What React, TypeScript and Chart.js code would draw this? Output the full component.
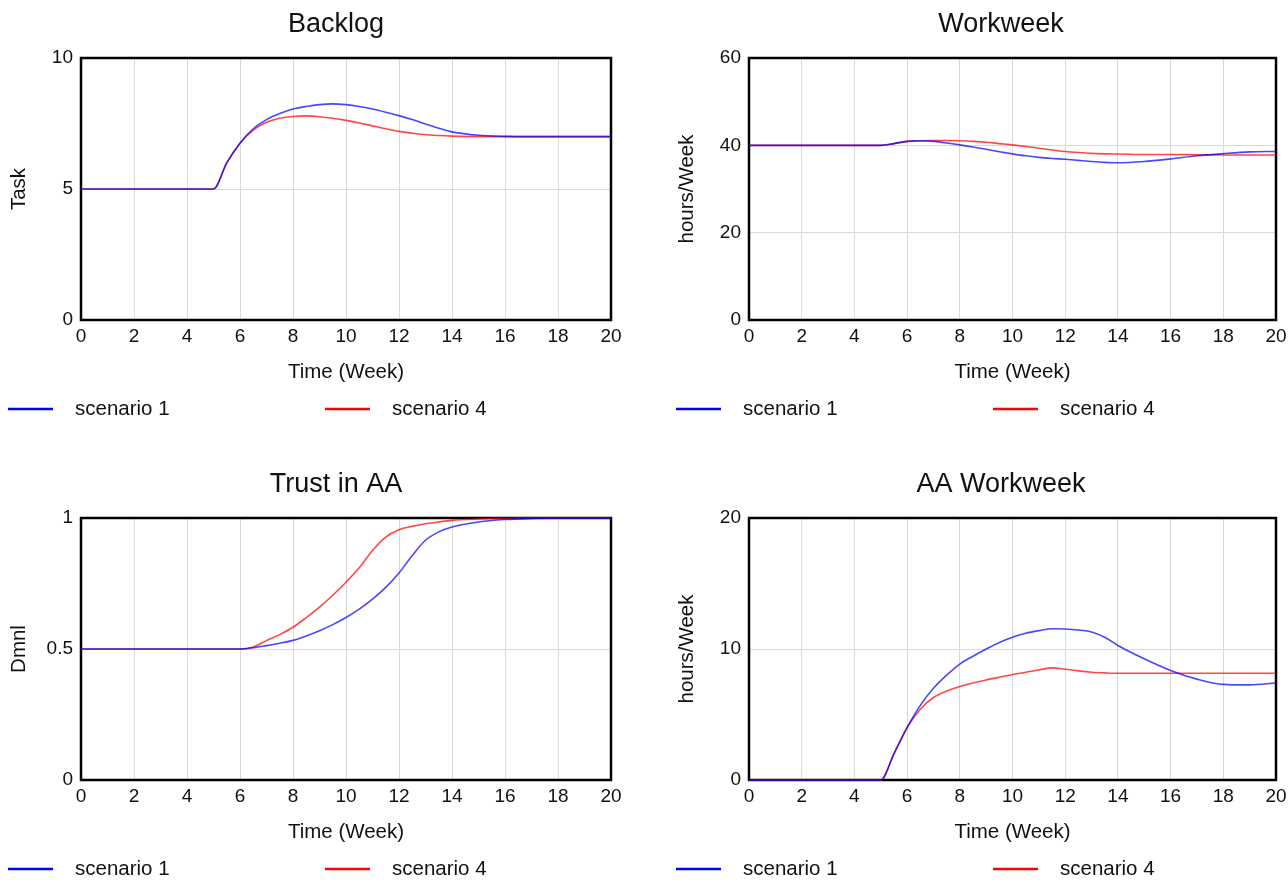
import React, { useEffect, useRef } from "react";
import { Chart, registerables } from "chart.js";
Chart.register(...registerables);

const TIME = [0, 1, 2, 3, 4, 5, 5.5, 6, 6.5, 7, 7.5, 8, 8.5, 9, 9.5, 10, 10.5, 11, 11.5, 12, 12.5, 13, 13.5, 14, 15, 16, 17, 18, 19, 20];
const X_TICKS = [0, 2, 4, 6, 8, 10, 12, 14, 16, 18, 20];
const SERIES_NAMES = ["scenario 1", "scenario 4"];

const BACKLOG_S1 = [5, 5, 5, 5, 5, 5, 6.0, 6.75, 7.3, 7.65, 7.88, 8.05, 8.15, 8.22, 8.25, 8.22, 8.15, 8.05, 7.93, 7.8, 7.65, 7.48, 7.32, 7.18, 7.05, 7.01, 7, 7, 7, 7];
const BACKLOG_S4 = [5, 5, 5, 5, 5, 5, 6.0, 6.75, 7.25, 7.55, 7.7, 7.77, 7.79, 7.76, 7.7, 7.62, 7.52, 7.41, 7.3, 7.2, 7.13, 7.07, 7.04, 7.02, 7, 7, 7, 7, 7, 7];

const WORKWEEK_S1 = [40, 40, 40, 40, 40, 40, 40.4, 40.9, 41.05, 40.9, 40.55, 40.1, 39.6, 39.1, 38.55, 38.05, 37.6, 37.25, 37.0, 36.8, 36.55, 36.3, 36.1, 36.0, 36.3, 36.9, 37.6, 38.1, 38.5, 38.6];
const WORKWEEK_S4 = [40, 40, 40, 40, 40, 40, 40.4, 40.9, 41.05, 41.1, 41.1, 41.05, 40.9, 40.7, 40.4, 40.1, 39.75, 39.35, 38.95, 38.6, 38.35, 38.15, 38.05, 38.0, 37.9, 37.9, 37.85, 37.8, 37.8, 37.8];

const TRUST_S1 = [0.5, 0.5, 0.5, 0.5, 0.5, 0.5, 0.5, 0.5, 0.505, 0.513, 0.522, 0.533, 0.55, 0.57, 0.593, 0.62, 0.652, 0.69, 0.735, 0.79, 0.857, 0.915, 0.947, 0.966, 0.985, 0.994, 0.998, 1, 1, 1];
const TRUST_S4 = [0.5, 0.5, 0.5, 0.5, 0.5, 0.5, 0.5, 0.5, 0.508, 0.532, 0.555, 0.583, 0.62, 0.66, 0.705, 0.755, 0.81, 0.876, 0.927, 0.955, 0.968, 0.978, 0.985, 0.991, 0.996, 0.999, 1, 1, 1, 1];

const AA_S1 = [0, 0, 0, 0, 0, 0, 2.0, 4.0, 5.7, 7.0, 8.0, 8.85, 9.45, 10.0, 10.5, 10.9, 11.2, 11.4, 11.55, 11.53, 11.45, 11.3, 10.9, 10.27, 9.25, 8.36, 7.7, 7.3, 7.26, 7.4];
const AA_S4 = [0, 0, 0, 0, 0, 0, 2.0, 4.0, 5.4, 6.3, 6.8, 7.13, 7.4, 7.64, 7.85, 8.05, 8.22, 8.4, 8.56, 8.46, 8.33, 8.23, 8.18, 8.15, 8.15, 8.15, 8.15, 8.15, 8.15, 8.15];

const FONT = '"Liberation Sans", Arial, sans-serif';
const TEXT = "#111111";
const LEGEND_COLORS = ["#0000ff", "#ff0000"];
const LINE_COLORS = ["rgba(0,0,255,0.72)", "rgba(255,0,0,0.72)"];

const framePlugin = {
  id: "frame",
  beforeDatasetsDraw(chart: any) {
    const { ctx, chartArea } = chart;
    ctx.save();
    ctx.strokeStyle = "#000";
    ctx.lineWidth = 2.5;
    ctx.strokeRect(chartArea.left, chartArea.top, chartArea.right - chartArea.left, chartArea.bottom - chartArea.top);
    ctx.restore();
  },
};

const legendPlugin = {
  id: "simLegend",
  afterDraw(chart: any) {
    const ctx = chart.ctx;
    ctx.save();
    const y = chart.height - 11;
    chart.data.datasets.forEach((ds: any, i: number) => {
      const x0 = 8 + i * 317;
      ctx.strokeStyle = LEGEND_COLORS[i];
      ctx.lineWidth = 2.5;
      ctx.beginPath();
      ctx.moveTo(x0, y);
      ctx.lineTo(x0 + 45, y);
      ctx.stroke();
      ctx.fillStyle = TEXT;
      ctx.font = `20.5px ${FONT}`;
      ctx.textBaseline = "middle";
      ctx.textAlign = "left";
      ctx.fillText(ds.label, x0 + 67, y);
    });
    ctx.restore();
  },
};

type PanelProps = {
  left: number;
  top: number;
  width: number;
  rightGap: number;
  title: string;
  yTitle: string;
  yMax: number;
  yStep: number;
  s1: number[];
  s4: number[];
};

function Panel({ left, top, width, rightGap, title, yTitle, yMax, yStep, s1, s4 }: PanelProps) {
  const ref = useRef<HTMLCanvasElement | null>(null);
  useEffect(() => {
    if (!ref.current) return;
    const series = [s1, s4];
    const chart = new Chart(ref.current, {
      type: "line",
      data: {
        datasets: series.map((vals, i) => ({
          label: SERIES_NAMES[i],
          data: TIME.map((t, k) => ({ x: t, y: vals[k] })),
          borderColor: LINE_COLORS[i],
          borderWidth: 1.6,
          pointRadius: 0,
          cubicInterpolationMode: "monotone" as const,
          clip: 4,
        })),
      },
      options: {
        animation: false,
        responsive: false,
        events: [],
        layout: { padding: { left: 0, right: 0, top: 0, bottom: 30 } },
        plugins: {
          legend: { display: false },
          tooltip: { enabled: false },
          title: {
            display: true,
            text: title,
            color: TEXT,
            font: { family: FONT, size: 27, weight: "normal" as const, lineHeight: 1.2 },
            padding: { top: 8.8, bottom: 16.8 },
          },
        },
        scales: {
          x: {
            type: "linear",
            min: 0,
            max: 20,
            afterFit: (s: any) => {
              s.height = 70;
            },
            afterBuildTicks: (s: any) => {
              s.ticks = X_TICKS.map((v) => ({ value: v }));
            },
            ticks: { color: TEXT, font: { family: FONT, size: 19 }, padding: 5, maxRotation: 0, autoSkip: false },
            grid: { color: "#d9d9d9", lineWidth: 1, drawTicks: false },
            border: { display: false },
            title: {
              display: true,
              text: "Time (Week)",
              color: TEXT,
              font: { family: FONT, size: 20.5, lineHeight: 1.2 },
              padding: { top: 0, bottom: 5 },
            },
          },
          y: {
            type: "linear",
            min: 0,
            max: yMax,
            afterFit: (s: any) => {
              s.width = 81;
            },
            ticks: {
              stepSize: yStep,
              color: TEXT,
              font: { family: FONT, size: 19 },
              padding: 8,
              callback: (v: any) => String(Math.round(Number(v) * 100) / 100),
            },
            grid: { color: "#d9d9d9", lineWidth: 1, drawTicks: false },
            border: { display: false },
            title: {
              display: true,
              text: yTitle,
              color: TEXT,
              font: { family: FONT, size: 20.5, lineHeight: 1.2 },
              padding: { top: 7, bottom: 0 },
            },
          },
          gap: {
            type: "linear",
            position: "right",
            display: true,
            min: 0,
            max: 1,
            afterFit: (s: any) => {
              s.width = rightGap;
            },
            ticks: { display: false },
            grid: { display: false, drawTicks: false },
            border: { display: false },
            title: { display: false },
          },
        },
      },
      plugins: [framePlugin, legendPlugin],
    } as any);
    return () => chart.destroy();
  }, []);
  return (
    <canvas
      ref={ref}
      width={width}
      height={420}
      style={{ position: "absolute", left, top, width, height: 420 }}
    />
  );
}

export default function App() {
  return (
    <div
      style={{
        position: "absolute",
        left: 0,
        top: 0,
        width: 1288,
        height: 880,
        overflow: "hidden",
        background: "#ffffff",
      }}
    >
      <Panel left={0} top={0} width={672} rightGap={61} title="Backlog" yTitle="Task" yMax={10} yStep={5} s1={BACKLOG_S1} s4={BACKLOG_S4} />
      <Panel left={668} top={0} width={666} rightGap={58} title="Workweek" yTitle="hours/Week" yMax={60} yStep={20} s1={WORKWEEK_S1} s4={WORKWEEK_S4} />
      <Panel left={0} top={460} width={672} rightGap={61} title="Trust in AA" yTitle="Dmnl" yMax={1} yStep={0.5} s1={TRUST_S1} s4={TRUST_S4} />
      <Panel left={668} top={460} width={666} rightGap={58} title="AA Workweek" yTitle="hours/Week" yMax={20} yStep={10} s1={AA_S1} s4={AA_S4} />
    </div>
  );
}
